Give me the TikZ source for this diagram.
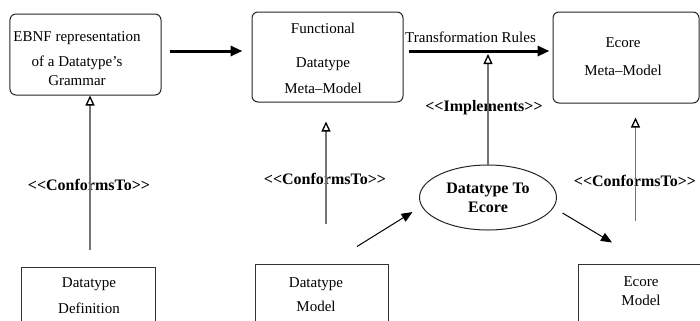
\documentclass[tikz,border=0pt]{standalone}
\usepackage{fontspec}
\setmainfont{Liberation Serif}[Ligatures=TeXOff]
\usetikzlibrary{arrows.meta,shapes.geometric}
\begin{document}
\begin{tikzpicture}[x=1bp,y=-1bp,
  rbox/.style={draw=black!85,line width=1bp,rounded corners=6bp,inner sep=0pt},
  sbox/.style={draw=black!80,line width=1bp,inner sep=0pt},
  txt/.style={font=\fontsize{15bp}{17bp}\selectfont,align=center,inner sep=0pt},
  btxt/.style={font=\bfseries\fontsize{16bp}{19bp}\selectfont,align=center,inner sep=0pt},
  bigarrow/.style={line width=3bp,-{Triangle[length=12bp,width=10bp]}},
  thinarrow/.style={line width=1bp,-{Triangle[length=11bp,width=9bp]}},
  conf/.style={draw=black!55,line width=1.3bp,-{Triangle[open,length=10bp,width=9bp,color=black]}},
  ell/.style={draw=black!85,line width=1bp,ellipse,inner sep=0pt}
]
\useasboundingbox (0,0) rectangle (700,320);
\fill[white] (0,0) rectangle (700,320);
\clip (0,0) rectangle (700,320);

% boxes
\node[rbox,minimum width=151bp,minimum height=81bp] (b1) at (85.5,54.5) {};
\node[rbox,minimum width=151bp,minimum height=90bp] (b2) at (327.5,57) {};
\node[rbox,minimum width=146bp,minimum height=91bp] (b3) at (626,57.5) {};
\node[sbox,minimum width=133bp,minimum height=60bp] (b4) at (88.5,297) {};
\node[sbox,minimum width=133bp,minimum height=62bp] (b5) at (321.5,295) {};
\node[sbox,minimum width=132bp,minimum height=62bp] (b6) at (644,295) {};
\node[ell,minimum width=137bp,minimum height=65bp,btxt] (e) at (488,197.5) {Datatype To\\Ecore};

% texts in boxes
\node[txt] (t1) at (77,59) {EBNF representation\\[8bp]of a Datatype’s\\[2bp]Grammar};
\node[txt] (t2) at (323,58) {Functional\\[17bp]Datatype\\[9bp]Meta–Model};
\node[txt] (t3) at (623,57) {Ecore\\[11bp]Meta–Model};
\node[txt] (t4) at (89,296) {Datatype\\[9bp]Definition};
\node[txt] (t5) at (316,295) {Datatype\\[7bp]Model};
\node[txt] (t6) at (641,291.5) {Ecore\\[2bp]Model};

% labels
\node[btxt] (l1) at (89,185) {<<ConformsTo>>};
\node[btxt] (l2) at (325,179) {<<ConformsTo>>};
\node[btxt] (l3) at (635,181) {<<ConformsTo>>};
\node[btxt] (l4) at (484,108) {<<Implements>>};

% thick arrows
\draw[bigarrow,shorten <=8bp,shorten >=9bp] ([yshift=3.5bp]b1.east) coordinate (a1s) -- (a1s -| b2.west);
\draw[bigarrow,shorten <=5bp,shorten >=3bp] ([yshift=6bp]b2.east) coordinate (a2s) -- (a2s -| b3.west)
  node[txt,pos=0.45,above=7bp] (tr) {Transformation Rules};

% implements
\draw[conf,shorten >=3bp] (e.north) -- (e.north |- a2s);

% conforms
\draw[conf] ([xshift=1.5bp,yshift=17bp]b4.north) coordinate (c1s) -- (b1.south -| c1s);
\draw[conf,shorten >=19bp] ([xshift=4.5bp,yshift=40bp]b5.north) coordinate (c2s) -- (b2.south -| c2s);
\draw[conf,shorten >=14bp] ([xshift=-8.5bp,yshift=43bp]b6.north) coordinate (c3s) -- (b3.south -| c3s);

% diagonal arrows
\draw[thinarrow] ([xshift=35.5bp,yshift=17bp]b5.north) -- ([xshift=-6.5bp,yshift=-14.5bp]e.west);
\draw[thinarrow] ([xshift=5.5bp,yshift=-15.5bp]e.east) -- ([xshift=-32bp,yshift=21bp]b6.north);
\end{tikzpicture}
\end{document}
